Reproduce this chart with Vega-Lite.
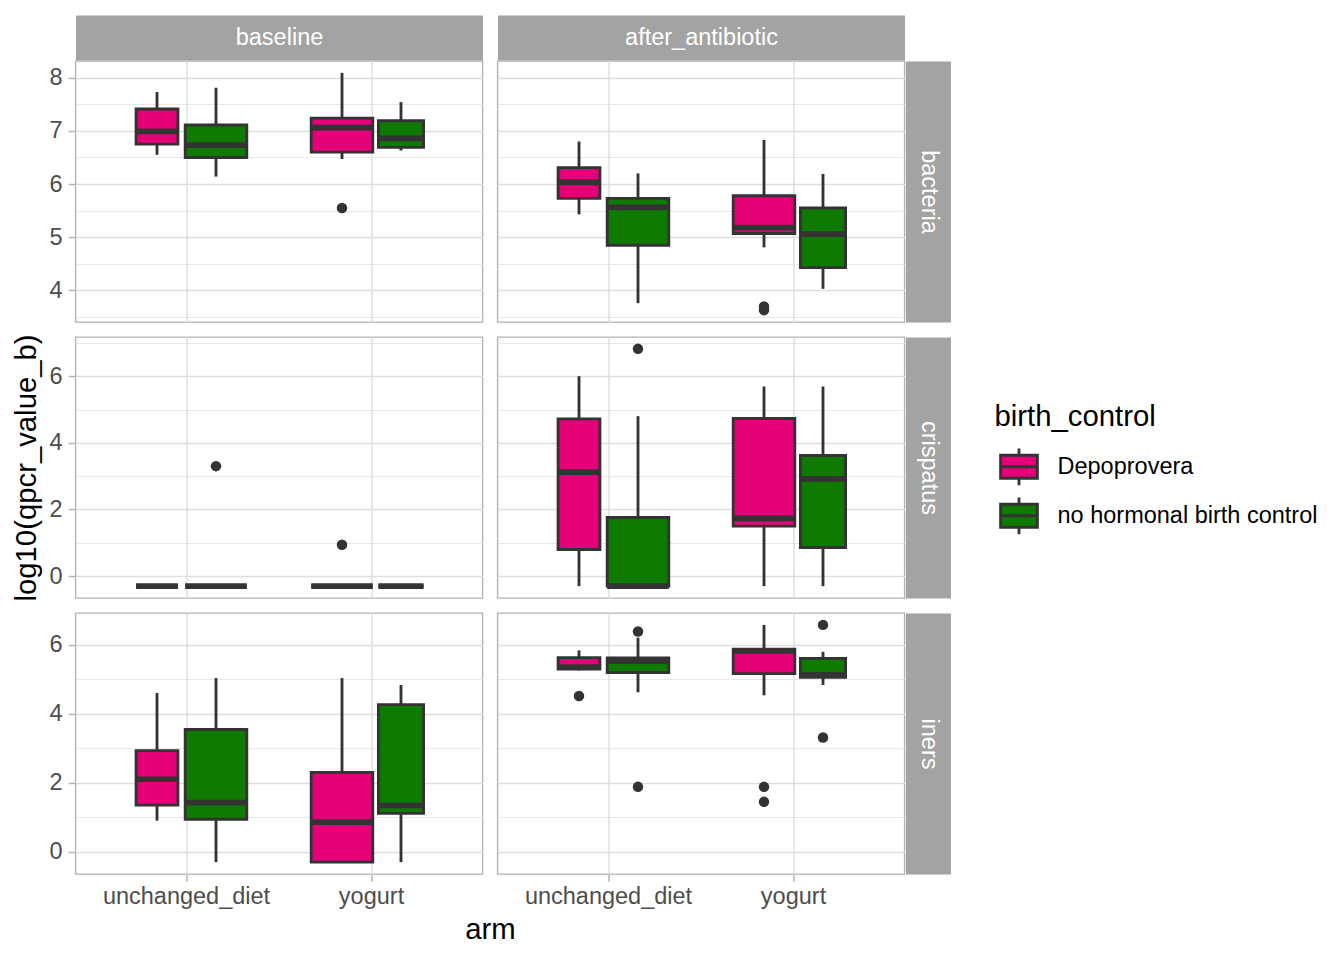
{
  "$schema": "https://vega.github.io/schema/vega-lite/v6.json",
  "background": "white",
  "padding": {"left": 10.5, "top": 24, "right": 10, "bottom": 8},
  "datasets": {
    "boxes": [
      {"time":"baseline","panel":"bacteria","arm":"unchanged_diet","birth_control":"Depoprovera","n":6,"lower":6.55,"q1":6.75,"median":6.99,"q3":7.41,"upper":7.73},
      {"time":"baseline","panel":"bacteria","arm":"unchanged_diet","birth_control":"no hormonal birth control","n":13,"lower":6.14,"q1":6.5,"median":6.73,"q3":7.11,"upper":7.81},
      {"time":"baseline","panel":"bacteria","arm":"yogurt","birth_control":"Depoprovera","n":13,"lower":6.47,"q1":6.6,"median":7.06,"q3":7.24,"upper":8.09},
      {"time":"baseline","panel":"bacteria","arm":"yogurt","birth_control":"no hormonal birth control","n":7,"lower":6.63,"q1":6.69,"median":6.86,"q3":7.19,"upper":7.54},
      {"time":"after_antibiotic","panel":"bacteria","arm":"unchanged_diet","birth_control":"Depoprovera","n":6,"lower":5.43,"q1":5.73,"median":6.03,"q3":6.31,"upper":6.8},
      {"time":"after_antibiotic","panel":"bacteria","arm":"unchanged_diet","birth_control":"no hormonal birth control","n":13,"lower":3.76,"q1":4.85,"median":5.56,"q3":5.73,"upper":6.2},
      {"time":"after_antibiotic","panel":"bacteria","arm":"yogurt","birth_control":"Depoprovera","n":13,"lower":4.81,"q1":5.07,"median":5.18,"q3":5.78,"upper":6.83},
      {"time":"after_antibiotic","panel":"bacteria","arm":"yogurt","birth_control":"no hormonal birth control","n":7,"lower":4.03,"q1":4.43,"median":5.06,"q3":5.55,"upper":6.19},
      {"time":"baseline","panel":"crispatus","arm":"unchanged_diet","birth_control":"Depoprovera","n":6,"lower":-0.301,"q1":-0.301,"median":-0.301,"q3":-0.301,"upper":-0.301},
      {"time":"baseline","panel":"crispatus","arm":"unchanged_diet","birth_control":"no hormonal birth control","n":13,"lower":-0.301,"q1":-0.301,"median":-0.301,"q3":-0.301,"upper":-0.301},
      {"time":"baseline","panel":"crispatus","arm":"yogurt","birth_control":"Depoprovera","n":13,"lower":-0.301,"q1":-0.301,"median":-0.301,"q3":-0.301,"upper":-0.301},
      {"time":"baseline","panel":"crispatus","arm":"yogurt","birth_control":"no hormonal birth control","n":7,"lower":-0.301,"q1":-0.301,"median":-0.301,"q3":-0.301,"upper":-0.301},
      {"time":"after_antibiotic","panel":"crispatus","arm":"unchanged_diet","birth_control":"Depoprovera","n":6,"lower":-0.301,"q1":0.8,"median":3.12,"q3":4.72,"upper":6.0},
      {"time":"after_antibiotic","panel":"crispatus","arm":"unchanged_diet","birth_control":"no hormonal birth control","n":13,"lower":-0.301,"q1":-0.301,"median":-0.301,"q3":1.76,"upper":4.8},
      {"time":"after_antibiotic","panel":"crispatus","arm":"yogurt","birth_control":"Depoprovera","n":13,"lower":-0.301,"q1":1.5,"median":1.73,"q3":4.73,"upper":5.69},
      {"time":"after_antibiotic","panel":"crispatus","arm":"yogurt","birth_control":"no hormonal birth control","n":7,"lower":-0.301,"q1":0.86,"median":2.92,"q3":3.62,"upper":5.69},
      {"time":"baseline","panel":"iners","arm":"unchanged_diet","birth_control":"Depoprovera","n":6,"lower":0.9,"q1":1.35,"median":2.1,"q3":2.93,"upper":4.6},
      {"time":"baseline","panel":"iners","arm":"unchanged_diet","birth_control":"no hormonal birth control","n":13,"lower":-0.301,"q1":0.94,"median":1.42,"q3":3.54,"upper":5.03},
      {"time":"baseline","panel":"iners","arm":"yogurt","birth_control":"Depoprovera","n":13,"lower":-0.301,"q1":-0.301,"median":0.86,"q3":2.3,"upper":5.03},
      {"time":"baseline","panel":"iners","arm":"yogurt","birth_control":"no hormonal birth control","n":7,"lower":-0.301,"q1":1.11,"median":1.34,"q3":4.26,"upper":4.83},
      {"time":"after_antibiotic","panel":"iners","arm":"unchanged_diet","birth_control":"Depoprovera","n":6,"lower":5.25,"q1":5.29,"median":5.35,"q3":5.62,"upper":5.83},
      {"time":"after_antibiotic","panel":"iners","arm":"unchanged_diet","birth_control":"no hormonal birth control","n":13,"lower":4.62,"q1":5.19,"median":5.52,"q3":5.61,"upper":6.2},
      {"time":"after_antibiotic","panel":"iners","arm":"yogurt","birth_control":"Depoprovera","n":13,"lower":4.53,"q1":5.16,"median":5.82,"q3":5.87,"upper":6.57},
      {"time":"after_antibiotic","panel":"iners","arm":"yogurt","birth_control":"no hormonal birth control","n":7,"lower":4.83,"q1":5.05,"median":5.12,"q3":5.6,"upper":5.79}
    ],
    "outliers": [
      {"time":"baseline","panel":"bacteria","arm":"yogurt","birth_control":"Depoprovera","value":5.55},
      {"time":"after_antibiotic","panel":"bacteria","arm":"yogurt","birth_control":"Depoprovera","value":3.7},
      {"time":"after_antibiotic","panel":"bacteria","arm":"yogurt","birth_control":"Depoprovera","value":3.63},
      {"time":"baseline","panel":"crispatus","arm":"unchanged_diet","birth_control":"no hormonal birth control","value":3.3},
      {"time":"baseline","panel":"crispatus","arm":"yogurt","birth_control":"Depoprovera","value":0.94},
      {"time":"after_antibiotic","panel":"crispatus","arm":"unchanged_diet","birth_control":"no hormonal birth control","value":6.82},
      {"time":"after_antibiotic","panel":"iners","arm":"unchanged_diet","birth_control":"Depoprovera","value":4.51},
      {"time":"after_antibiotic","panel":"iners","arm":"unchanged_diet","birth_control":"no hormonal birth control","value":6.38},
      {"time":"after_antibiotic","panel":"iners","arm":"unchanged_diet","birth_control":"no hormonal birth control","value":1.88},
      {"time":"after_antibiotic","panel":"iners","arm":"yogurt","birth_control":"Depoprovera","value":1.88},
      {"time":"after_antibiotic","panel":"iners","arm":"yogurt","birth_control":"Depoprovera","value":1.445},
      {"time":"after_antibiotic","panel":"iners","arm":"yogurt","birth_control":"no hormonal birth control","value":6.57},
      {"time":"after_antibiotic","panel":"iners","arm":"yogurt","birth_control":"no hormonal birth control","value":3.31}
    ]
  },
  "columns": 2,
  "spacing": 15,
  "bounds": "flush",
  "concat": [
    {
      "width": 407, "height": 261,
      "data": {"name": "boxes"},
      "transform": [{"filter": "datum.panel === 'bacteria' && datum.time === 'baseline'"}],
      "resolve": {"axis": {"x": "independent", "y": "independent"}},
      "layer": [
        {"mark": {"type": "bar", "stroke": "#333333", "strokeWidth": 2.85},
         "encoding": {
           "x": {"field": "arm", "type": "nominal", "scale": {"domain": ["unchanged_diet", "yogurt"], "paddingInner": 0, "paddingOuter": 0.1}, "axis": {"orient": "bottom", "grid": true, "labels": false, "ticks": false, "title": null}},
           "xOffset": {"field": "birth_control", "type": "nominal", "scale": {"domain": ["Depoprovera", "no hormonal birth control"], "paddingInner": 0, "paddingOuter": 0.568}},
           "y": {"field": "q1", "type": "quantitative", "scale": {"domain": [3.407, 8.313], "nice": false, "zero": false}, "axis": {"orient": "left", "grid": true, "values": [3.5, 4, 4.5, 5, 5.5, 6, 6.5, 7, 7.5, 8], "labelExpr": "datum.value % 1 === 0 ? format(datum.value, 'd') : ''", "gridWidth": {"condition": {"test": "datum.value % 1 !== 0", "value": 0.71}, "value": 1.42}, "tickOpacity": {"condition": {"test": "datum.value % 1 !== 0", "value": 0}, "value": 1}, "title": null}},
           "y2": {"field": "q3"},
           "fill": {"field": "birth_control", "type": "nominal", "scale": {"domain": ["Depoprovera", "no hormonal birth control"], "range": ["#E5007A", "#0F7A00"]}, "legend": {"orient": "none", "legendX": 919, "legendY": 342, "title": "birth_control"}},
           "size": {"field": "n", "type": "quantitative", "scale": {"type": "sqrt", "domain": [0, 13], "range": [0, 61.6]}, "legend": null}}},
        {"mark": {"type": "rule", "color": "#333333", "strokeWidth": 2.85},
         "encoding": {
           "x": {"field": "arm", "type": "nominal", "axis": {"orient": "top", "domain": true, "domainColor": "#A3A3A3", "domainWidth": 45, "offset": 23.5, "ticks": false, "labels": false, "grid": false, "title": "baseline", "titleColor": "white", "titleFontSize": 23.5, "titleFontWeight": "normal", "titleY": 0, "titleBaseline": "middle", "titlePadding": 0}},
           "xOffset": {"field": "birth_control", "type": "nominal"},
           "y": {"field": "lower", "type": "quantitative", "axis": null},
           "y2": {"field": "q1"}}},
        {"mark": {"type": "rule", "color": "#333333", "strokeWidth": 2.85},
         "encoding": {
           "x": {"field": "arm", "type": "nominal", "axis": null},
           "xOffset": {"field": "birth_control", "type": "nominal"},
           "y": {"field": "q3", "type": "quantitative", "axis": null},
           "y2": {"field": "upper"}}},
        {"mark": {"type": "tick", "orient": "horizontal", "color": "#333333", "thickness": 5.7, "opacity": 1},
         "encoding": {
           "x": {"field": "arm", "type": "nominal", "axis": null},
           "xOffset": {"field": "birth_control", "type": "nominal"},
           "y": {"field": "median", "type": "quantitative", "axis": null},
           "size": {"field": "n", "type": "quantitative", "legend": null}}},
        {"data": {"name": "outliers"},
         "transform": [{"filter": "datum.panel === 'bacteria' && datum.time === 'baseline'"}],
         "mark": {"type": "circle", "color": "#333333", "opacity": 1, "size": 110},
         "encoding": {
           "x": {"field": "arm", "type": "nominal", "axis": null},
           "xOffset": {"field": "birth_control", "type": "nominal"},
           "y": {"field": "value", "type": "quantitative", "axis": null}}}
      ]
    },
    {
      "width": 407, "height": 261,
      "data": {"name": "boxes"},
      "transform": [{"filter": "datum.panel === 'bacteria' && datum.time === 'after_antibiotic'"}],
      "resolve": {"axis": {"x": "independent", "y": "independent"}},
      "layer": [
        {"mark": {"type": "bar", "stroke": "#333333", "strokeWidth": 2.85},
         "encoding": {
           "x": {"field": "arm", "type": "nominal", "scale": {"domain": ["unchanged_diet", "yogurt"], "paddingInner": 0, "paddingOuter": 0.1}, "axis": {"orient": "bottom", "grid": true, "labels": false, "ticks": false, "title": null}},
           "xOffset": {"field": "birth_control", "type": "nominal", "scale": {"domain": ["Depoprovera", "no hormonal birth control"], "paddingInner": 0, "paddingOuter": 0.568}},
           "y": {"field": "q1", "type": "quantitative", "scale": {"domain": [3.407, 8.313], "nice": false, "zero": false}, "axis": {"orient": "left", "grid": true, "values": [3.5, 4, 4.5, 5, 5.5, 6, 6.5, 7, 7.5, 8], "labels": false, "ticks": false, "gridWidth": {"condition": {"test": "datum.value % 1 !== 0", "value": 0.71}, "value": 1.42}, "title": null}},
           "y2": {"field": "q3"},
           "fill": {"field": "birth_control", "type": "nominal", "scale": {"domain": ["Depoprovera", "no hormonal birth control"], "range": ["#E5007A", "#0F7A00"]}, "legend": {"orient": "none", "legendX": 919, "legendY": 342, "title": "birth_control"}},
           "size": {"field": "n", "type": "quantitative", "scale": {"type": "sqrt", "domain": [0, 13], "range": [0, 61.6]}, "legend": null}}},
        {"mark": {"type": "rule", "color": "#333333", "strokeWidth": 2.85},
         "encoding": {
           "x": {"field": "arm", "type": "nominal", "axis": {"orient": "top", "domain": true, "domainColor": "#A3A3A3", "domainWidth": 45, "offset": 23.5, "ticks": false, "labels": false, "grid": false, "title": "after_antibiotic", "titleColor": "white", "titleFontSize": 23.5, "titleFontWeight": "normal", "titleY": 0, "titleBaseline": "middle", "titlePadding": 0}},
           "xOffset": {"field": "birth_control", "type": "nominal"},
           "y": {"field": "lower", "type": "quantitative", "axis": {"orient": "right", "domain": true, "domainColor": "#A3A3A3", "domainWidth": 45, "offset": 23.5, "ticks": false, "labels": false, "grid": false, "title": "bacteria", "titleColor": "white", "titleFontSize": 23.5, "titleFontWeight": "normal", "titleAngle": 90, "titleX": 0, "titleBaseline": "middle", "titleAlign": "center", "titlePadding": 0}},
           "y2": {"field": "q1"}}},
        {"mark": {"type": "rule", "color": "#333333", "strokeWidth": 2.85},
         "encoding": {
           "x": {"field": "arm", "type": "nominal", "axis": null},
           "xOffset": {"field": "birth_control", "type": "nominal"},
           "y": {"field": "q3", "type": "quantitative", "axis": null},
           "y2": {"field": "upper"}}},
        {"mark": {"type": "tick", "orient": "horizontal", "color": "#333333", "thickness": 5.7, "opacity": 1},
         "encoding": {
           "x": {"field": "arm", "type": "nominal", "axis": null},
           "xOffset": {"field": "birth_control", "type": "nominal"},
           "y": {"field": "median", "type": "quantitative", "axis": null},
           "size": {"field": "n", "type": "quantitative", "legend": null}}},
        {"data": {"name": "outliers"},
         "transform": [{"filter": "datum.panel === 'bacteria' && datum.time === 'after_antibiotic'"}],
         "mark": {"type": "circle", "color": "#333333", "opacity": 1, "size": 110},
         "encoding": {
           "x": {"field": "arm", "type": "nominal", "axis": null},
           "xOffset": {"field": "birth_control", "type": "nominal"},
           "y": {"field": "value", "type": "quantitative", "axis": null}}}
      ]
    },
    {
      "width": 407, "height": 261,
      "data": {"name": "boxes"},
      "transform": [{"filter": "datum.panel === 'crispatus' && datum.time === 'baseline'"}],
      "resolve": {"axis": {"x": "independent", "y": "independent"}},
      "layer": [
        {"mark": {"type": "bar", "stroke": "#333333", "strokeWidth": 2.85},
         "encoding": {
           "x": {"field": "arm", "type": "nominal", "scale": {"domain": ["unchanged_diet", "yogurt"], "paddingInner": 0, "paddingOuter": 0.1}, "axis": {"orient": "bottom", "grid": true, "labels": false, "ticks": false, "title": null}},
           "xOffset": {"field": "birth_control", "type": "nominal", "scale": {"domain": ["Depoprovera", "no hormonal birth control"], "paddingInner": 0, "paddingOuter": 0.568}},
           "y": {"field": "q1", "type": "quantitative", "scale": {"domain": [-0.657, 7.176], "nice": false, "zero": false}, "axis": {"orient": "left", "grid": true, "values": [0, 1, 2, 3, 4, 5, 6, 7], "labelExpr": "datum.value % 2 === 0 ? format(datum.value, 'd') : ''", "gridWidth": {"condition": {"test": "datum.value % 2 !== 0", "value": 0.71}, "value": 1.42}, "tickOpacity": {"condition": {"test": "datum.value % 2 !== 0", "value": 0}, "value": 1}, "title": "log10(qpcr_value_b)"}},
           "y2": {"field": "q3"},
           "fill": {"field": "birth_control", "type": "nominal", "scale": {"domain": ["Depoprovera", "no hormonal birth control"], "range": ["#E5007A", "#0F7A00"]}, "legend": {"orient": "none", "legendX": 919, "legendY": 342, "title": "birth_control"}},
           "size": {"field": "n", "type": "quantitative", "scale": {"type": "sqrt", "domain": [0, 13], "range": [0, 61.6]}, "legend": null}}},
        {"mark": {"type": "rule", "color": "#333333", "strokeWidth": 2.85},
         "encoding": {
           "x": {"field": "arm", "type": "nominal", "axis": null},
           "xOffset": {"field": "birth_control", "type": "nominal"},
           "y": {"field": "lower", "type": "quantitative", "axis": null},
           "y2": {"field": "q1"}}},
        {"mark": {"type": "rule", "color": "#333333", "strokeWidth": 2.85},
         "encoding": {
           "x": {"field": "arm", "type": "nominal", "axis": null},
           "xOffset": {"field": "birth_control", "type": "nominal"},
           "y": {"field": "q3", "type": "quantitative", "axis": null},
           "y2": {"field": "upper"}}},
        {"mark": {"type": "tick", "orient": "horizontal", "color": "#333333", "thickness": 5.7, "opacity": 1},
         "encoding": {
           "x": {"field": "arm", "type": "nominal", "axis": null},
           "xOffset": {"field": "birth_control", "type": "nominal"},
           "y": {"field": "median", "type": "quantitative", "axis": null},
           "size": {"field": "n", "type": "quantitative", "legend": null}}},
        {"data": {"name": "outliers"},
         "transform": [{"filter": "datum.panel === 'crispatus' && datum.time === 'baseline'"}],
         "mark": {"type": "circle", "color": "#333333", "opacity": 1, "size": 110},
         "encoding": {
           "x": {"field": "arm", "type": "nominal", "axis": null},
           "xOffset": {"field": "birth_control", "type": "nominal"},
           "y": {"field": "value", "type": "quantitative", "axis": null}}}
      ]
    },
    {
      "width": 407, "height": 261,
      "data": {"name": "boxes"},
      "transform": [{"filter": "datum.panel === 'crispatus' && datum.time === 'after_antibiotic'"}],
      "resolve": {"axis": {"x": "independent", "y": "independent"}},
      "layer": [
        {"mark": {"type": "bar", "stroke": "#333333", "strokeWidth": 2.85},
         "encoding": {
           "x": {"field": "arm", "type": "nominal", "scale": {"domain": ["unchanged_diet", "yogurt"], "paddingInner": 0, "paddingOuter": 0.1}, "axis": {"orient": "bottom", "grid": true, "labels": false, "ticks": false, "title": null}},
           "xOffset": {"field": "birth_control", "type": "nominal", "scale": {"domain": ["Depoprovera", "no hormonal birth control"], "paddingInner": 0, "paddingOuter": 0.568}},
           "y": {"field": "q1", "type": "quantitative", "scale": {"domain": [-0.657, 7.176], "nice": false, "zero": false}, "axis": {"orient": "left", "grid": true, "values": [0, 1, 2, 3, 4, 5, 6, 7], "labels": false, "ticks": false, "gridWidth": {"condition": {"test": "datum.value % 2 !== 0", "value": 0.71}, "value": 1.42}, "title": null}},
           "y2": {"field": "q3"},
           "fill": {"field": "birth_control", "type": "nominal", "scale": {"domain": ["Depoprovera", "no hormonal birth control"], "range": ["#E5007A", "#0F7A00"]}, "legend": {"orient": "none", "legendX": 919, "legendY": 342, "title": "birth_control"}},
           "size": {"field": "n", "type": "quantitative", "scale": {"type": "sqrt", "domain": [0, 13], "range": [0, 61.6]}, "legend": null}}},
        {"mark": {"type": "rule", "color": "#333333", "strokeWidth": 2.85},
         "encoding": {
           "x": {"field": "arm", "type": "nominal", "axis": null},
           "xOffset": {"field": "birth_control", "type": "nominal"},
           "y": {"field": "lower", "type": "quantitative", "axis": {"orient": "right", "domain": true, "domainColor": "#A3A3A3", "domainWidth": 45, "offset": 23.5, "ticks": false, "labels": false, "grid": false, "title": "crispatus", "titleColor": "white", "titleFontSize": 23.5, "titleFontWeight": "normal", "titleAngle": 90, "titleX": 0, "titleBaseline": "middle", "titleAlign": "center", "titlePadding": 0}},
           "y2": {"field": "q1"}}},
        {"mark": {"type": "rule", "color": "#333333", "strokeWidth": 2.85},
         "encoding": {
           "x": {"field": "arm", "type": "nominal", "axis": null},
           "xOffset": {"field": "birth_control", "type": "nominal"},
           "y": {"field": "q3", "type": "quantitative", "axis": null},
           "y2": {"field": "upper"}}},
        {"mark": {"type": "tick", "orient": "horizontal", "color": "#333333", "thickness": 5.7, "opacity": 1},
         "encoding": {
           "x": {"field": "arm", "type": "nominal", "axis": null},
           "xOffset": {"field": "birth_control", "type": "nominal"},
           "y": {"field": "median", "type": "quantitative", "axis": null},
           "size": {"field": "n", "type": "quantitative", "legend": null}}},
        {"data": {"name": "outliers"},
         "transform": [{"filter": "datum.panel === 'crispatus' && datum.time === 'after_antibiotic'"}],
         "mark": {"type": "circle", "color": "#333333", "opacity": 1, "size": 110},
         "encoding": {
           "x": {"field": "arm", "type": "nominal", "axis": null},
           "xOffset": {"field": "birth_control", "type": "nominal"},
           "y": {"field": "value", "type": "quantitative", "axis": null}}}
      ]
    },
    {
      "width": 407, "height": 261,
      "data": {"name": "boxes"},
      "transform": [{"filter": "datum.panel === 'iners' && datum.time === 'baseline'"}],
      "resolve": {"axis": {"x": "independent", "y": "independent"}},
      "layer": [
        {"mark": {"type": "bar", "stroke": "#333333", "strokeWidth": 2.85},
         "encoding": {
           "x": {"field": "arm", "type": "nominal", "scale": {"domain": ["unchanged_diet", "yogurt"], "paddingInner": 0, "paddingOuter": 0.1}, "axis": {"orient": "bottom", "grid": true, "labelAngle": 0, "labelPadding": 3, "title": "arm", "titleX": 414.5, "titlePadding": 8}},
           "xOffset": {"field": "birth_control", "type": "nominal", "scale": {"domain": ["Depoprovera", "no hormonal birth control"], "paddingInner": 0, "paddingOuter": 0.568}},
           "y": {"field": "q1", "type": "quantitative", "scale": {"domain": [-0.644, 6.914], "nice": false, "zero": false}, "axis": {"orient": "left", "grid": true, "values": [0, 1, 2, 3, 4, 5, 6], "labelExpr": "datum.value % 2 === 0 ? format(datum.value, 'd') : ''", "gridWidth": {"condition": {"test": "datum.value % 2 !== 0", "value": 0.71}, "value": 1.42}, "tickOpacity": {"condition": {"test": "datum.value % 2 !== 0", "value": 0}, "value": 1}, "title": null}},
           "y2": {"field": "q3"},
           "fill": {"field": "birth_control", "type": "nominal", "scale": {"domain": ["Depoprovera", "no hormonal birth control"], "range": ["#E5007A", "#0F7A00"]}, "legend": {"orient": "none", "legendX": 919, "legendY": 342, "title": "birth_control"}},
           "size": {"field": "n", "type": "quantitative", "scale": {"type": "sqrt", "domain": [0, 13], "range": [0, 61.6]}, "legend": null}}},
        {"mark": {"type": "rule", "color": "#333333", "strokeWidth": 2.85},
         "encoding": {
           "x": {"field": "arm", "type": "nominal", "axis": null},
           "xOffset": {"field": "birth_control", "type": "nominal"},
           "y": {"field": "lower", "type": "quantitative", "axis": null},
           "y2": {"field": "q1"}}},
        {"mark": {"type": "rule", "color": "#333333", "strokeWidth": 2.85},
         "encoding": {
           "x": {"field": "arm", "type": "nominal", "axis": null},
           "xOffset": {"field": "birth_control", "type": "nominal"},
           "y": {"field": "q3", "type": "quantitative", "axis": null},
           "y2": {"field": "upper"}}},
        {"mark": {"type": "tick", "orient": "horizontal", "color": "#333333", "thickness": 5.7, "opacity": 1},
         "encoding": {
           "x": {"field": "arm", "type": "nominal", "axis": null},
           "xOffset": {"field": "birth_control", "type": "nominal"},
           "y": {"field": "median", "type": "quantitative", "axis": null},
           "size": {"field": "n", "type": "quantitative", "legend": null}}},
        {"data": {"name": "outliers"},
         "transform": [{"filter": "datum.panel === 'iners' && datum.time === 'baseline'"}],
         "mark": {"type": "circle", "color": "#333333", "opacity": 1, "size": 110},
         "encoding": {
           "x": {"field": "arm", "type": "nominal", "axis": null},
           "xOffset": {"field": "birth_control", "type": "nominal"},
           "y": {"field": "value", "type": "quantitative", "axis": null}}}
      ]
    },
    {
      "width": 407, "height": 261,
      "data": {"name": "boxes"},
      "transform": [{"filter": "datum.panel === 'iners' && datum.time === 'after_antibiotic'"}],
      "resolve": {"axis": {"x": "independent", "y": "independent"}},
      "layer": [
        {"mark": {"type": "bar", "stroke": "#333333", "strokeWidth": 2.85},
         "encoding": {
           "x": {"field": "arm", "type": "nominal", "scale": {"domain": ["unchanged_diet", "yogurt"], "paddingInner": 0, "paddingOuter": 0.1}, "axis": {"orient": "bottom", "grid": true, "labelAngle": 0, "labelPadding": 3, "title": null}},
           "xOffset": {"field": "birth_control", "type": "nominal", "scale": {"domain": ["Depoprovera", "no hormonal birth control"], "paddingInner": 0, "paddingOuter": 0.568}},
           "y": {"field": "q1", "type": "quantitative", "scale": {"domain": [-0.644, 6.914], "nice": false, "zero": false}, "axis": {"orient": "left", "grid": true, "values": [0, 1, 2, 3, 4, 5, 6], "labels": false, "ticks": false, "gridWidth": {"condition": {"test": "datum.value % 2 !== 0", "value": 0.71}, "value": 1.42}, "title": null}},
           "y2": {"field": "q3"},
           "fill": {"field": "birth_control", "type": "nominal", "scale": {"domain": ["Depoprovera", "no hormonal birth control"], "range": ["#E5007A", "#0F7A00"]}, "legend": {"orient": "none", "legendX": 919, "legendY": 342, "title": "birth_control"}},
           "size": {"field": "n", "type": "quantitative", "scale": {"type": "sqrt", "domain": [0, 13], "range": [0, 61.6]}, "legend": null}}},
        {"mark": {"type": "rule", "color": "#333333", "strokeWidth": 2.85},
         "encoding": {
           "x": {"field": "arm", "type": "nominal", "axis": null},
           "xOffset": {"field": "birth_control", "type": "nominal"},
           "y": {"field": "lower", "type": "quantitative", "axis": {"orient": "right", "domain": true, "domainColor": "#A3A3A3", "domainWidth": 45, "offset": 23.5, "ticks": false, "labels": false, "grid": false, "title": "iners", "titleColor": "white", "titleFontSize": 23.5, "titleFontWeight": "normal", "titleAngle": 90, "titleX": 0, "titleBaseline": "middle", "titleAlign": "center", "titlePadding": 0}},
           "y2": {"field": "q1"}}},
        {"mark": {"type": "rule", "color": "#333333", "strokeWidth": 2.85},
         "encoding": {
           "x": {"field": "arm", "type": "nominal", "axis": null},
           "xOffset": {"field": "birth_control", "type": "nominal"},
           "y": {"field": "q3", "type": "quantitative", "axis": null},
           "y2": {"field": "upper"}}},
        {"mark": {"type": "tick", "orient": "horizontal", "color": "#333333", "thickness": 5.7, "opacity": 1},
         "encoding": {
           "x": {"field": "arm", "type": "nominal", "axis": null},
           "xOffset": {"field": "birth_control", "type": "nominal"},
           "y": {"field": "median", "type": "quantitative", "axis": null},
           "size": {"field": "n", "type": "quantitative", "legend": null}}},
        {"data": {"name": "outliers"},
         "transform": [{"filter": "datum.panel === 'iners' && datum.time === 'after_antibiotic'"}],
         "mark": {"type": "circle", "color": "#333333", "opacity": 1, "size": 110},
         "encoding": {
           "x": {"field": "arm", "type": "nominal", "axis": null},
           "xOffset": {"field": "birth_control", "type": "nominal"},
           "y": {"field": "value", "type": "quantitative", "axis": null}}}
      ]
    }
  ],
  "resolve": {"scale": {"y": "independent", "fill": "shared", "size": "shared"}, "legend": {"fill": "shared"}},
  "config": {
    "font": "Liberation Sans",
    "view": {"stroke": "#B3B3B3", "strokeWidth": 1.4},
    "axis": {"domain": false, "gridColor": "#DEDEDE", "gridWidth": 1.42, "tickColor": "#B3B3B3", "tickWidth": 1.42, "tickSize": 7.3, "labelColor": "#4D4D4D", "labelFont": "Liberation Sans", "labelFontSize": 23.5, "labelPadding": 6, "titleFont": "Liberation Sans", "titleFontSize": 29.3, "titleFontWeight": "normal", "titleColor": "#000000", "titlePadding": 8},
    "legend": {"titleFont": "Liberation Sans", "titleFontSize": 29.3, "titleFontWeight": "normal", "titleColor": "#000000", "titlePadding": 10, "labelFont": "Liberation Sans", "labelFontSize": 23.5, "labelColor": "#000000", "labelOffset": 14, "labelLimit": 400, "titleLimit": 400, "symbolType": "M-0.8,-0.5H0.8V0.5H-0.8Z M-0.8,0H0.8 M0,-0.5V-0.8 M0,0.5V0.8", "symbolSize": 2116, "symbolStrokeColor": "#333333", "symbolStrokeWidth": 2.85, "symbolOpacity": 1, "rowPadding": -5, "padding": 0}
  }
}
